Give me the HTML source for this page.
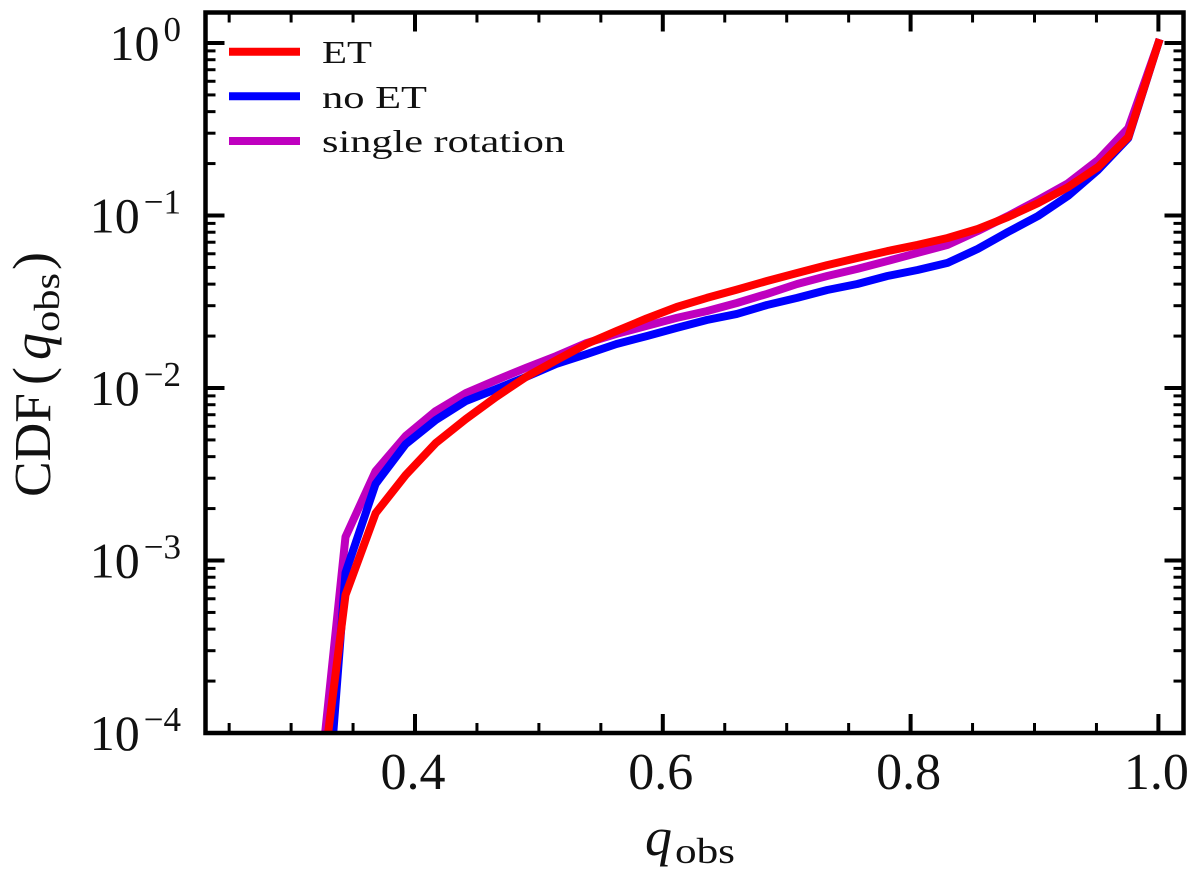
<!DOCTYPE html>
<html lang="en">
<head>
<meta charset="utf-8">
<title>CDF of observed axis ratio</title>
<style>
  html, body { margin: 0; padding: 0; background: #fff; width: 1200px; height: 875px; overflow: hidden; }
  svg { display: block; font-family: "Liberation Serif", serif; fill: #111; }
</style>
</head>
<body>
<svg id="chart" xmlns="http://www.w3.org/2000/svg" width="1200" height="875" viewBox="0 0 1200 875">
  <defs>
    <clipPath id="plot-clip"><rect x="205.5" y="12.5" width="978" height="720.5"/></clipPath>
  </defs>
  <g id="ticks"></g>
  <g id="series" clip-path="url(#plot-clip)"></g>
  <rect x="205.5" y="12.5" width="978" height="720.5" fill="none" stroke="#000" stroke-width="4.5"/>
  <g id="tick-labels"></g>

  <text><tspan x="645" y="855" font-size="54" font-style="italic">q</tspan><tspan x="675" y="863" font-size="36" textLength="60" lengthAdjust="spacingAndGlyphs">obs</tspan></text>
  <text transform="translate(50,497) rotate(-90)"><tspan x="0" y="0" font-size="52" textLength="104" lengthAdjust="spacingAndGlyphs">CDF</tspan><tspan x="112" y="0" font-size="54">(</tspan><tspan x="137" y="0" font-size="54" font-style="italic">q</tspan><tspan x="165" y="9" font-size="36" textLength="59" lengthAdjust="spacingAndGlyphs">obs</tspan><tspan x="227" y="0" font-size="54">)</tspan></text>

  <g id="legend">
    <line x1="229" x2="300" y1="51.7" y2="51.7" stroke="#ff0000" stroke-width="8"/>
    <text x="322" y="63" font-size="32" textLength="50" lengthAdjust="spacingAndGlyphs">ET</text>
    <line x1="229" x2="300" y1="96.3" y2="96.3" stroke="#0000ff" stroke-width="8"/>
    <text x="322" y="108" font-size="32" textLength="105" lengthAdjust="spacingAndGlyphs">no ET</text>
    <line x1="229" x2="300" y1="141" y2="141" stroke="#bf00bf" stroke-width="8"/>
    <text x="322" y="152" font-size="32" textLength="243" lengthAdjust="spacingAndGlyphs">single rotation</text>
  </g>
</svg>
<script>
const qObs = [0.3266,0.3439,0.3682,0.3925,0.4168,0.4411,0.4654,0.4897,0.514,0.5383,0.5626,0.5869,0.6112,0.6355,0.6598,0.6841,0.7084,0.7327,0.757,0.7813,0.8056,0.8299,0.8542,0.8785,0.9028,0.9271,0.9514,0.9757,1.0];
const cdfEt = [6.53e-5,6.31e-4,1.88e-3,3.13e-3,4.80e-3,6.61e-3,8.87e-3,1.16e-2,1.45e-2,1.80e-2,2.14e-2,2.53e-2,2.95e-2,3.33e-2,3.72e-2,4.17e-2,4.64e-2,5.16e-2,5.67e-2,6.22e-2,6.75e-2,7.41e-2,8.35e-2,9.80e-2,0.118,0.146,0.191,0.285,1.0];
const cdfNoEt = [2.02e-5,8.47e-4,2.78e-3,4.73e-3,6.52e-3,8.41e-3,9.86e-3,1.16e-2,1.38e-2,1.57e-2,1.80e-2,2.00e-2,2.23e-2,2.48e-2,2.69e-2,3.03e-2,3.33e-2,3.70e-2,4.01e-2,4.46e-2,4.83e-2,5.31e-2,6.40e-2,8.02e-2,9.93e-2,0.130,0.184,0.281,1.0];
const cdfSingle = [8.75e-5,1.37e-3,3.30e-3,5.27e-3,7.36e-3,9.35e-3,1.11e-2,1.31e-2,1.53e-2,1.82e-2,2.06e-2,2.29e-2,2.55e-2,2.79e-2,3.11e-2,3.51e-2,4.01e-2,4.46e-2,4.90e-2,5.45e-2,6.07e-2,6.75e-2,8.13e-2,9.93e-2,0.123,0.154,0.210,0.321,1.0];
const xMajorTicks = [0.4,0.6,0.8,1.0];
const xMajorLabels = ["0.4","0.6","0.8","1.0"];
const xMinorTicks = [0.25,0.3,0.35,0.45,0.5,0.55,0.65,0.7,0.75,0.85,0.9,0.95];
const yDecades = [0,-1,-2,-3,-4];
const yDecadeLabels = ["0","−1","−2","−3","−4"];
const yMinorFactors = [2,3,4,5,6,7,8,9];

function xScale(q) { return 415 + (q - 0.4) * 1239; }
function yScale(v) { return 43 - Math.log10(v) * 172.5; }

const NS = "http://www.w3.org/2000/svg";
const ticksGroup = document.getElementById("ticks");
const labelsGroup = document.getElementById("tick-labels");
const seriesGroup = document.getElementById("series");
const LEFT = 205.5, RIGHT = 1183.5, TOP = 12.5, BOTTOM = 733;

function addTick(name, x1, y1, x2, y2, width) {
  const l = document.createElementNS(NS, "line");
  l.setAttribute("x1", x1);
  l.setAttribute("y1", y1);
  l.setAttribute("x2", x2);
  l.setAttribute("y2", y2);
  l.setAttribute("stroke", "#000");
  l.setAttribute("stroke-width", width);
  
  
  ticksGroup.appendChild(l);
}

function drawXTick(q, len, width, name) {
  const x = xScale(q);
  addTick(name + "-bottom", x, BOTTOM, x, BOTTOM - len, width);
  addTick(name + "-top", x, TOP, x, TOP + len, width);
}

function drawYTick(v, len, width, name) {
  const y = yScale(v);
  addTick(name + "-left", LEFT, y, LEFT + len, y, width);
  addTick(name + "-right", RIGHT, y, RIGHT - len, y, width);
}

xMinorTicks.forEach(function (q) { drawXTick(q, 10, 3, "x-minor-tick"); });
xMajorTicks.forEach(function (q) { drawXTick(q, 19, 4, "x-major-tick"); });
yDecades.forEach(function (d, i) {
  drawYTick(Math.pow(10, d), 19, 4, "y-major-tick");
  if (d < 0) {
    yMinorFactors.forEach(function (f) {
      drawYTick(f * Math.pow(10, d), 10, 3, "y-minor-tick");
    });
  }
});

xMajorTicks.forEach(function (q, i) {
  const t = document.createElementNS(NS, "text");
  t.setAttribute("x", xScale(q) - 2);
  t.setAttribute("y", 789);
  t.setAttribute("text-anchor", "middle");
  t.setAttribute("font-size", "52");
  t.textContent = xMajorLabels[i];
  
  
  labelsGroup.appendChild(t);
});

yDecades.forEach(function (d, i) {
  const t = document.createElementNS(NS, "text");
  t.setAttribute("x", 181);
  t.setAttribute("y", yScale(Math.pow(10, d)) + 17);
  t.setAttribute("text-anchor", "end");
  t.setAttribute("font-size", "50");
  t.appendChild(document.createTextNode("10"));
  const s = document.createElementNS(NS, "tspan");
  s.setAttribute("font-size", "35");
  s.setAttribute("dy", "-19");
  s.setAttribute("dx", "4");
  s.textContent = yDecadeLabels[i];
  t.appendChild(s);
  
  
  labelsGroup.appendChild(t);
});

function drawSeries(values, color, name) {
  const p = document.createElementNS(NS, "polyline");
  const pts = qObs.map(function (q, i) {
    return xScale(q).toFixed(1) + "," + yScale(values[i]).toFixed(1);
  });
  p.setAttribute("points", pts.join(" "));
  p.setAttribute("fill", "none");
  p.setAttribute("stroke", color);
  p.setAttribute("stroke-width", "8");
  p.setAttribute("stroke-linejoin", "round");
  p.setAttribute("stroke-linecap", "square");
  
  
  seriesGroup.appendChild(p);
}

drawSeries(cdfSingle, "#bf00bf", "series-single-rotation");
drawSeries(cdfNoEt, "#0000ff", "series-no-et");
drawSeries(cdfEt, "#ff0000", "series-et");
</script>
</body>
</html>
